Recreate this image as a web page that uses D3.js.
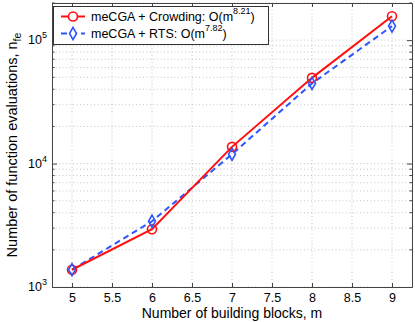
<!DOCTYPE html>
<html>
<head>
<meta charset="utf-8">
<script src="https://cdnjs.cloudflare.com/ajax/libs/d3/7.8.5/d3.min.js"></script>
<style>
  body { margin: 0; background: #fff; }
  svg text { font-family: "Liberation Sans", Arial, sans-serif; }
</style>
</head>
<body>
<svg id="chart"></svg>
<script>
// data
const blocks = [5, 6, 7, 8, 9];
const crowding = [1380, 2940, 13660, 49500, 156000];
const rts = [1380, 3410, 11900, 44600, 130000];
const xTicks = [5, 5.5, 6, 6.5, 7, 7.5, 8, 8.5, 9];
const yDecades = [1e3, 1e4, 1e5];

let width = 415;
let height = 322;
let margin = { top: 3, right: 3, bottom: 35, left: 52 };

let svg = d3.select("#chart")
    .attr("width", width)
    .attr("height", height);

let x = d3.scaleLinear()
    .domain([4.75, 9.25])
    .range([margin.left, width - margin.right]);

let y = d3.scaleLog()
    .domain([1e3, 2e5])
    .range([height - margin.bottom, margin.top]);

// minor log ticks 2..9 per decade
let minorTicks = [];
[1e3, 1e4, 1e5].forEach(d => {
    for (let k = 2; k <= 9; k++) {
        if (d * k <= 2e5) minorTicks.push(d * k);
    }
});

let grid = svg.append("g").attr("class", "grid")
    .attr("stroke", "#b8b8b8")
    .attr("stroke-width", 0.8)
    .attr("stroke-dasharray", "1,2.5");

grid.selectAll(".gx")
    .data(xTicks)
    .enter().append("line")
    .attr("x1", d => x(d)).attr("x2", d => x(d))
    .attr("y1", y.range()[0]).attr("y2", y.range()[1]);

grid.selectAll(".gy")
    .data(yDecades.concat(minorTicks))
    .enter().append("line")
    .attr("x1", x.range()[0]).attr("x2", x.range()[1])
    .attr("y1", d => y(d)).attr("y2", d => y(d));

// axes, matlab style: ticks inside, box all round
let xAxisB = d3.axisBottom(x).tickValues(xTicks).tickSize(-4).tickPadding(6).tickFormat(d3.format("~g"));
let xAxisT = d3.axisTop(x).tickValues(xTicks).tickSize(-4).tickFormat("");
let yAxisL = d3.axisLeft(y).tickValues(yDecades).tickSize(-5).tickFormat("");
let yAxisR = d3.axisRight(y).tickValues(yDecades).tickSize(-5).tickFormat("");

let gxB = svg.append("g").attr("transform", `translate(0,${y.range()[0]})`).call(xAxisB);
svg.append("g").attr("transform", `translate(0,${y.range()[1]})`).call(xAxisT);
svg.append("g").attr("transform", `translate(${x.range()[0]},0)`).call(yAxisL);
svg.append("g").attr("transform", `translate(${x.range()[1]},0)`).call(yAxisR);

// minor ticks on both sides
[x.range()[0], x.range()[1]].forEach((px, i) => {
    svg.append("g").selectAll("line")
        .data(minorTicks)
        .enter().append("line")
        .attr("x1", px).attr("x2", i === 0 ? px + 2.5 : px - 2.5)
        .attr("y1", d => y(d)).attr("y2", d => y(d))
        .attr("stroke", "#444");
});

svg.selectAll(".domain").attr("stroke", "#444");
svg.selectAll(".tick line").attr("stroke", "#444");
gxB.selectAll(".tick text").attr("font-size", 12.5).attr("fill", "#000");

// y decade labels 10^n
let yl = svg.append("g").selectAll("text")
    .data(yDecades)
    .enter().append("text")
    .attr("x", x.range()[0] - 5)
    .attr("y", d => y(d) + 4)
    .attr("text-anchor", "end")
    .attr("font-size", 12.5);
yl.append("tspan").text("10");
yl.append("tspan").attr("font-size", 9).attr("dy", -6).text(d => Math.round(Math.log10(d)));

// series
let red = "#ff1010";
let blue = "#2d55ff";
let line = d3.line().x((d, i) => x(blocks[i])).y(d => y(d));

svg.append("path").datum(rts)
    .attr("d", line).attr("fill", "none")
    .attr("stroke", blue).attr("stroke-width", 2).attr("stroke-dasharray", "6,4");
svg.append("path").datum(crowding)
    .attr("d", line).attr("fill", "none")
    .attr("stroke", red).attr("stroke-width", 2);

svg.append("g").selectAll("circle")
    .data(crowding)
    .enter().append("circle")
    .attr("cx", (d, i) => x(blocks[i])).attr("cy", d => y(d))
    .attr("r", 4.5).attr("fill", "none").attr("stroke", red).attr("stroke-width", 1.6);

let diamond = d3.symbol().type(d3.symbolDiamond).size(42);
svg.append("g").selectAll("path")
    .data(rts)
    .enter().append("path")
    .attr("d", diamond)
    .attr("transform", (d, i) => `translate(${x(blocks[i])},${y(d)})`)
    .attr("fill", "none").attr("stroke", blue).attr("stroke-width", 1.6);

// legend
let legend = svg.append("g");
legend.append("rect")
    .attr("x", 53.5).attr("y", 6.5).attr("width", 215).attr("height", 38)
    .attr("fill", "#fff").attr("stroke", "#333").attr("stroke-width", 1);

let legendItems = [
    { name: "meCGA + Crowding: O(m", exp: "8.21", color: red, dash: null, mark: "circle" },
    { name: "meCGA + RTS: O(m", exp: "7.82", color: blue, dash: "6,4", mark: "diamond" }
];
legendItems.forEach((it, i) => {
    let cy = 16.5 + i * 17;
    legend.append("line")
        .attr("x1", 61).attr("x2", 85).attr("y1", cy).attr("y2", cy)
        .attr("stroke", it.color).attr("stroke-width", 2)
        .attr("stroke-dasharray", it.dash);
    if (it.mark === "circle") {
        legend.append("circle").attr("cx", 73).attr("cy", cy).attr("r", 4.5)
            .attr("fill", "#fff").attr("stroke", it.color).attr("stroke-width", 1.6);
    } else {
        legend.append("path").attr("d", diamond)
            .attr("transform", `translate(73,${cy})`)
            .attr("fill", "#fff").attr("stroke", it.color).attr("stroke-width", 1.6);
    }
    let t = legend.append("text").attr("x", 91).attr("y", cy + 4.5).attr("font-size", 12.5);
    t.append("tspan").text(it.name);
    t.append("tspan").attr("font-size", 9).attr("dy", -7).text(it.exp);
    t.append("tspan").attr("dy", 7).text(")");
});

// axis titles
svg.append("text")
    .attr("x", (x.range()[0] + x.range()[1]) / 2)
    .attr("y", 318)
    .attr("text-anchor", "middle")
    .attr("font-size", 14)
    .text("Number of building blocks, m");

let yt = svg.append("text")
    .attr("transform", `translate(17,${(y.range()[0] + y.range()[1]) / 2}) rotate(-90)`)
    .attr("text-anchor", "middle")
    .attr("font-size", 14.5);
yt.append("tspan").text("Number of function evaluations, n");
yt.append("tspan").attr("font-size", 10.5).attr("dy", 4).text("fe");
</script>
</body>
</html>
